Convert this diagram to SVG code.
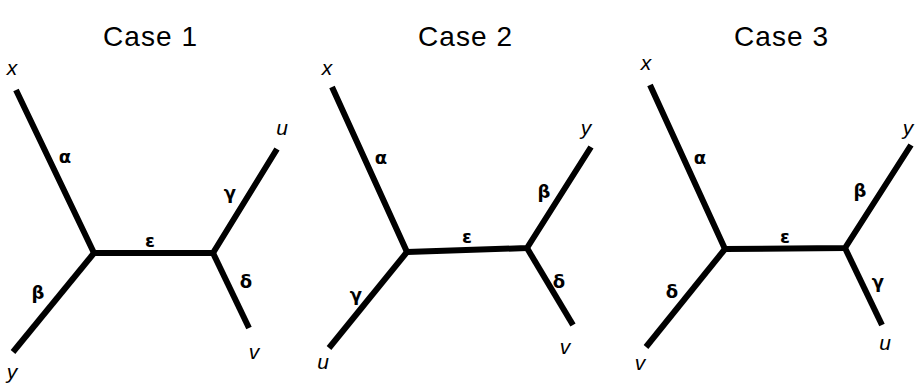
<svg xmlns="http://www.w3.org/2000/svg" width="918" height="386" viewBox="0 0 918 386">
<style>
.title{font-family:"Liberation Sans",Arial,sans-serif;font-size:28px;fill:#000;text-anchor:middle}
.leaf{font-family:"Liberation Sans",Arial,sans-serif;font-size:21px;font-style:italic;fill:#000;text-anchor:middle}
.gr{font-family:"DejaVu Sans","Liberation Sans",sans-serif;font-size:18px;font-weight:bold;fill:#000;text-anchor:middle}
.edge{stroke:#000;stroke-width:6;fill:none;stroke-linecap:butt;stroke-linejoin:round}
</style>
<rect width="918" height="386" fill="#fff"/>
<g id="case1">
<text class="title" x="150" y="46" textLength="94">Case 1</text>
<g id="connectors1">
<polyline class="edge" points="16,90 94,253 213,253 277,149"/>
<line class="edge" x1="94" y1="253" x2="13" y2="352"/>
<line class="edge" x1="213" y1="253" x2="249" y2="328"/>
</g>
<g id="c1-x"><text class="leaf" x="12" y="75">x</text></g>
<g id="c1-y"><text class="leaf" x="12" y="379">y</text></g>
<g id="c1-u"><text class="leaf" x="282" y="135">u</text></g>
<g id="c1-v"><text class="leaf" x="254" y="359">v</text></g>
<text class="gr" x="65" y="163">α</text>
<text class="gr" x="38" y="299">β</text>
<text class="gr" x="150" y="247">ε</text>
<text class="gr" x="230" y="199">γ</text>
<text class="gr" x="246" y="288">δ</text>
</g>
<g id="case2">
<text class="title" x="465" y="46" textLength="94">Case 2</text>
<g id="connectors2">
<polyline class="edge" points="332,87 407,252 527,248 591,147"/>
<line class="edge" x1="407" y1="252" x2="329" y2="348"/>
<line class="edge" x1="527" y1="248" x2="573" y2="325"/>
</g>
<g id="c2-x"><text class="leaf" x="327" y="75">x</text></g>
<g id="c2-u"><text class="leaf" x="323" y="369">u</text></g>
<g id="c2-y"><text class="leaf" x="586" y="135">y</text></g>
<g id="c2-v"><text class="leaf" x="565" y="354">v</text></g>
<text class="gr" x="381" y="164">α</text>
<text class="gr" x="356" y="301">γ</text>
<text class="gr" x="467" y="243">ε</text>
<text class="gr" x="544" y="198">β</text>
<text class="gr" x="559" y="288">δ</text>
</g>
<g id="case3">
<text class="title" x="781" y="46" textLength="94">Case 3</text>
<g id="connectors3">
<polyline class="edge" points="650,85 725,249 845,248 911,145"/>
<line class="edge" x1="725" y1="249" x2="646" y2="347"/>
<line class="edge" x1="845" y1="248" x2="882" y2="325"/>
</g>
<g id="c3-x"><text class="leaf" x="646" y="70">x</text></g>
<g id="c3-v"><text class="leaf" x="640" y="370">v</text></g>
<g id="c3-y"><text class="leaf" x="908" y="135">y</text></g>
<g id="c3-u"><text class="leaf" x="885" y="350">u</text></g>
<text class="gr" x="700" y="164">α</text>
<text class="gr" x="672" y="298">δ</text>
<text class="gr" x="785" y="243">ε</text>
<text class="gr" x="860" y="197">β</text>
<text class="gr" x="878" y="288">γ</text>
</g>
</svg>
